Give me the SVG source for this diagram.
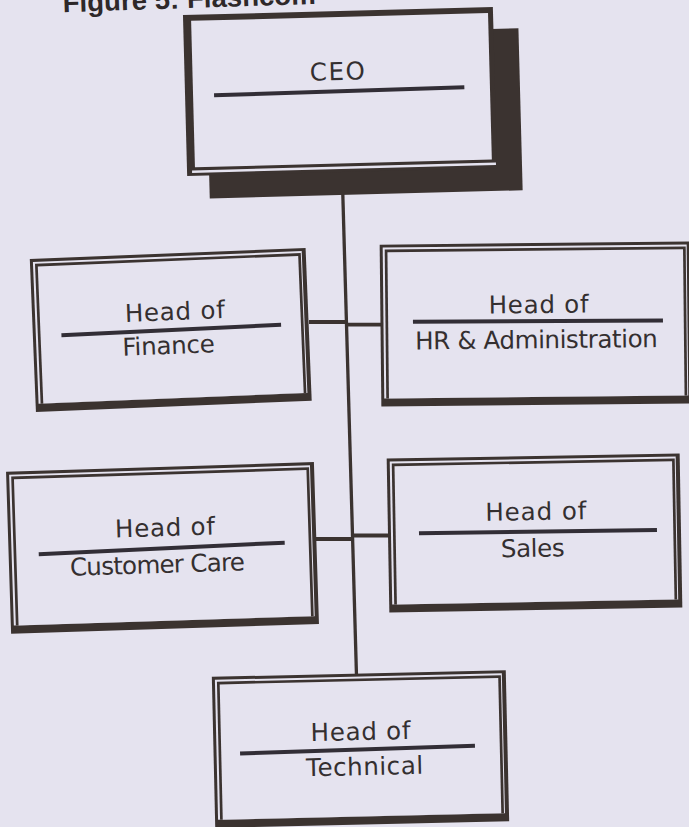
<svg xmlns="http://www.w3.org/2000/svg" width="689" height="827" viewBox="0 0 689 827">
<style>
.bg{fill:#e5e3ef}
.d{fill:#3b3330}
.t{font-family:"DejaVu Sans",sans-serif;font-size:24.5px;fill:#342f30;text-anchor:middle}
.rule{stroke:#322e36;stroke-width:4}
.conn{stroke:#3b3330;fill:none}
.title{font-family:"Liberation Sans",Arial,sans-serif;font-weight:bold;font-size:27.5px;fill:#2e2829}
</style>
<rect class="bg" x="0" y="0" width="689" height="827"/>
<g id="title">
<text class="title" x="63" y="12.2" transform="rotate(-1.9 63 12.2)" textLength="253">Figure 5: Flashcom</text>
</g>
<g id="connectors">
<line class="conn" x1="342.8" y1="194" x2="356.5" y2="676" stroke-width="3.3"/>
<line class="conn" x1="309" y1="322" x2="346.5" y2="322" stroke-width="3.8"/>
<line class="conn" x1="346.5" y1="324.7" x2="381" y2="324.7" stroke-width="3.8"/>
<line class="conn" x1="316" y1="539" x2="352.5" y2="539" stroke-width="3.8"/>
<line class="conn" x1="352.5" y1="535.5" x2="389" y2="535.5" stroke-width="3.8"/>
</g>
<g id="ceo" transform="rotate(-1.5 340 91)">
<rect class="d" x="207" y="33" width="313" height="162"/>
<rect class="d" x="185" y="11" width="310" height="161"/>
<rect class="bg" x="193" y="17" width="297" height="146.5"/>
<rect class="bg" x="190" y="166.5" width="304" height="2.5"/>
<text class="t" x="337.8" y="79.9" textLength="55">CEO</text>
<line class="rule" x1="214" y1="92" x2="464.4" y2="90.5"/>
</g>
<g id="finance" transform="rotate(-2.3 170.75 329.9)">
<rect class="d" x="32.75" y="253.4" width="276" height="153"/>
<rect class="bg" x="35.75" y="256.4" width="269" height="142"/>
<rect class="d" x="37.75" y="258.4" width="266" height="140"/>
<rect class="bg" x="40.45" y="261.1" width="260.6" height="137.3"/>
<text class="t" x="175.5" y="320.2" textLength="100">Head of</text>
<line class="rule" x1="61.3" y1="330.9" x2="281.2" y2="329.1"/>
<text class="t" x="168" y="353.9" textLength="92.5">Finance</text>
</g>
<g id="hr" transform="rotate(-0.6 536 324)">
<rect class="d" x="380.5" y="243" width="311" height="162"/>
<rect class="bg" x="383.5" y="246" width="304" height="151"/>
<rect class="d" x="385.5" y="248" width="301" height="149"/>
<rect class="bg" x="388.2" y="250.7" width="295.6" height="146.3"/>
<text class="t" x="538.8" y="313" textLength="100">Head of</text>
<line class="rule" x1="413" y1="320.4" x2="663" y2="321.8"/>
<text class="t" x="536.3" y="348.3" textLength="242.5">HR &amp; Administration</text>
</g>
<g id="customer-care" transform="rotate(-1.8 162.5 547.9)">
<rect class="d" x="8.5" y="466.9" width="308" height="162"/>
<rect class="bg" x="11.5" y="469.9" width="301" height="151"/>
<rect class="d" x="13.5" y="471.9" width="298" height="149"/>
<rect class="bg" x="16.2" y="474.6" width="292.6" height="146.3"/>
<text class="t" x="165.6" y="536.1" textLength="100">Head of</text>
<line class="rule" x1="38.6" y1="550.4" x2="284.8" y2="546.5"/>
<text class="t" x="156.9" y="572.9" textLength="175">Customer Care</text>
</g>
<g id="sales" transform="rotate(-1 534.5 533)">
<rect class="d" x="388" y="456" width="293" height="154"/>
<rect class="bg" x="391" y="459" width="286" height="143"/>
<rect class="d" x="393" y="461" width="283" height="141"/>
<rect class="bg" x="395.7" y="463.7" width="277.6" height="138.3"/>
<text class="t" x="536.2" y="520" textLength="101">Head of</text>
<line class="rule" x1="419" y1="531.3" x2="657" y2="532.1"/>
<text class="t" x="532.4" y="556.7" textLength="63.7">Sales</text>
</g>
<g id="technical" transform="rotate(-1.3 360.5 749)">
<rect class="d" x="213.5" y="673.5" width="294" height="151"/>
<rect class="bg" x="216.5" y="676.5" width="287" height="140"/>
<rect class="d" x="218.5" y="678.5" width="284" height="138"/>
<rect class="bg" x="221.2" y="681.2" width="278.6" height="135.3"/>
<text class="t" x="360.9" y="740" textLength="99.7">Head of</text>
<line class="rule" x1="240" y1="750.8" x2="475" y2="748.3"/>
<text class="t" x="364.2" y="775.1" textLength="117">Technical</text>
</g>
</svg>
